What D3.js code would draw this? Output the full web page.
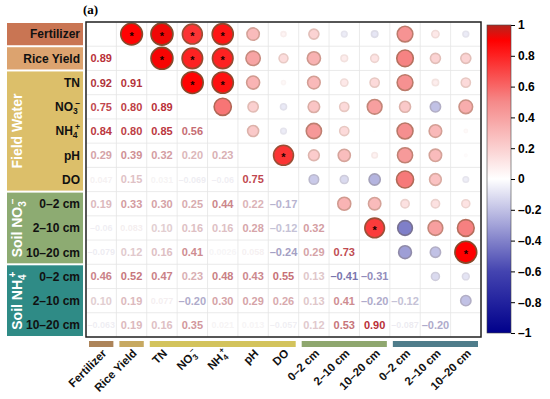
<!DOCTYPE html>
<meta charset="utf-8">
<style>
body { margin: 0; background: white; font-family: Arial, "Liberation Sans", sans-serif; }
.rowlab, .collab { font-weight: bold; fill: #111; }
.grp { font-weight: bold; fill: white; }
.tick text { font-weight: bold; font-size: 12px; }
</style>
<body>
<svg width="550" height="399"></svg>
<script src="https://d3js.org/d3.v7.min.js"></script>
<script>
// variable names, in matrix order
var vars = ["Fertilizer", "Rice Yield", "TN", "NO3", "NH4", "pH", "DO",
            "S3_0-2", "S3_2-10", "S3_10-20", "S4_0-2", "S4_2-10", "S4_10-20"];

// lower triangle of the correlation matrix, row by row
var lower = [
  [],
  [0.89],
  [0.92, 0.91],
  [0.75, 0.80, 0.89],
  [0.84, 0.80, 0.85, 0.56],
  [0.29, 0.39, 0.32, 0.20, 0.23],
  [0.047, 0.15, 0.031, -0.069, -0.060, 0.75],
  [0.19, 0.33, 0.30, 0.25, 0.44, 0.22, -0.17],
  [-0.060, 0.083, 0.10, 0.16, 0.16, 0.28, -0.12, 0.32],
  [-0.079, 0.12, 0.16, 0.41, 0.0026, 0.058, -0.24, 0.29, 0.73],
  [0.46, 0.52, 0.47, 0.23, 0.48, 0.43, 0.55, 0.13, -0.41, -0.31],
  [0.10, 0.19, 0.077, -0.20, 0.30, 0.29, 0.26, 0.13, 0.41, -0.20, -0.12],
  [-0.063, 0.19, 0.16, 0.35, 0.021, 0.013, -0.057, 0.12, 0.53, 0.90, -0.087, -0.20]
];

// row / column labels: [main, sub, sup]
var labels = [["Fertilizer"], ["Rice Yield"], ["TN"], ["NO", "3", "–"], ["NH", "4", "+"], ["pH"], ["DO"],
              ["0–2 cm"], ["2–10 cm"], ["10–20 cm"], ["0–2 cm"], ["2–10 cm"], ["10–20 cm"]];

// groups: first index, last index, colour of left box, colour of bottom bar, title
var groups = [
  {from: 0, to: 0, fill: "#c97553", bar: "#ad8459", title: null},
  {from: 1, to: 1, fill: "#dca36f", bar: "#c7a961", title: null},
  {from: 2, to: 6, fill: "#dcbf6a", bar: "#d3c35c", title: ["Field Water"]},
  {from: 7, to: 9, fill: "#8dab72", bar: "#8fa76f", title: ["Soil NO", "3", "–"]},
  {from: 10, to: 12, fill: "#2f8b86", bar: "#4f7d8b", title: ["Soil NH", "4", "+"]}
];

var cbTicks = [1, 0.8, 0.6, 0.4, 0.2, 0, -0.2, -0.4, -0.6, -0.8, -1];

var n = vars.length;
function r(i, j) { return i === j ? 1 : (i > j ? lower[i][j] : lower[j][i]); }

var svg = d3.select("svg");
var mLeft = 86, mRight = 481, mTop = 22, mBottom = 337;

var x = d3.scaleBand().domain(d3.range(n)).range([mLeft, mRight]);
var y = d3.scaleBand().domain(d3.range(n)).range([mTop, mBottom]);

var color = d3.scaleLinear()
  .domain([-1, -0.6, 0, 0.5, 0.9, 1])
  .range(["#00008b", "#4444b0", "#ffffff", "#f58a8a", "#ff0000", "#b3261e"])
  .interpolate(d3.interpolateRgb);

var rad = d3.scaleSqrt().domain([0, 1]).range([0, 11.5]);

function fmt(v) {
  var s;
  var a = Math.abs(v);
  if (a >= 0.1) s = a.toFixed(2);
  else s = String(+a.toPrecision(2));
  return (v < 0 ? "–" : "") + s;
}

// grid
var grid = svg.append("g");
d3.range(n + 1).forEach(function(k) {
  grid.append("line").attr("x1", mLeft).attr("x2", mRight)
    .attr("y1", mTop + k * y.bandwidth()).attr("y2", mTop + k * y.bandwidth())
    .attr("stroke", "#e4e4e4").attr("stroke-width", 0.8);
  grid.append("line").attr("y1", mTop).attr("y2", mBottom)
    .attr("x1", mLeft + k * x.bandwidth()).attr("x2", mLeft + k * x.bandwidth())
    .attr("stroke", "#e4e4e4").attr("stroke-width", 0.8);
});

var cells = [];
for (var i = 0; i < n; i++) for (var j = 0; j < n; j++) if (i !== j) cells.push({i: i, j: j, v: r(i, j)});

// upper: circles
var up = svg.append("g").selectAll("g").data(cells.filter(function(d) { return d.j > d.i; }))
  .enter().append("g")
  .attr("transform", function(d) { return "translate(" + (x(d.j) + x.bandwidth() / 2) + "," + (y(d.i) + y.bandwidth() / 2) + ")"; });
up.append("circle")
  .attr("r", function(d) { return rad(Math.abs(d.v)); })
  .attr("fill", function(d) { return color(d.v); })
  .attr("stroke", function(d) { return d3.interpolateRgb(color(d.v), "#6b5a35")(Math.min(1, Math.abs(d.v) * 0.9)); })
  .attr("stroke-width", 1.6);
up.filter(function(d) { return Math.abs(d.v) >= 0.73; }).append("text")
  .attr("text-anchor", "middle").attr("dy", "0.55em")
  .attr("font-size", 11).attr("font-weight", "bold").attr("fill", "#1a0000")
  .text("*");

// lower: numbers
svg.append("g").selectAll("text").data(cells.filter(function(d) { return d.j < d.i; }))
  .enter().append("text")
  .attr("x", function(d) { return x(d.j) + x.bandwidth() / 2; })
  .attr("y", function(d) { return y(d.i) + y.bandwidth() / 2; })
  .attr("dy", "0.36em")
  .attr("text-anchor", "middle")
  .attr("font-weight", "bold")
  .attr("font-size", function(d) { return Math.abs(d.v) < 0.1 ? 9 : 11; })
  .attr("fill", function(d) { return d3.interpolateRgb(color(d.v), "#706070")(0.15 + 0.38 * Math.abs(d.v)); })
  .attr("fill-opacity", function(d) { return Math.abs(d.v) < 0.1 ? 0.4 : 1; })
  .text(function(d) { return fmt(d.v); });

// border
svg.append("rect").attr("x", mLeft).attr("y", mTop).attr("width", mRight - mLeft).attr("height", mBottom - mTop)
  .attr("fill", "none").attr("stroke", "#222").attr("stroke-width", 1.5);

function addLabel(t, parts, subSize) {
  t.append("tspan").text(parts[0]);
  if (parts.length > 1) {
    t.append("tspan").attr("font-size", subSize).attr("dy", "0.35em").text(parts[1]);
    t.append("tspan").attr("font-size", subSize).attr("dy", "-1em").attr("dx", "-0.3em").text(parts[2]);
  }
}

// left label boxes
var lx0 = 7, lx1 = 83;
groups.forEach(function(g) {
  var y0 = y(g.from) + 1, y1 = y(g.to) + y.bandwidth() - 1;
  svg.append("rect").attr("x", lx0).attr("y", y0).attr("width", lx1 - lx0).attr("height", y1 - y0)
    .attr("fill", g.fill);
  if (g.title) {
    var t = svg.append("text").attr("class", "grp").attr("font-size", 14)
      .attr("text-anchor", "middle")
      .attr("transform", "translate(" + (lx0 + 15) + "," + ((y0 + y1) / 2) + ") rotate(-90)");
    addLabel(t, g.title, 10);
  }
  // bottom bar
  svg.append("rect").attr("x", x(g.from) + 3).attr("y", 341)
    .attr("width", x(g.to) + x.bandwidth() - x(g.from) - 6).attr("height", 6)
    .attr("fill", g.bar);
});

// row labels
d3.range(n).forEach(function(k) {
  var t = svg.append("text").attr("class", "rowlab").attr("font-size", 12)
    .attr("x", 80).attr("y", y(k) + y.bandwidth() / 2).attr("dy", "0.36em")
    .attr("text-anchor", "end");
  addLabel(t, labels[k], 8.5);
});

// column labels
d3.range(n).forEach(function(k) {
  var t = svg.append("text").attr("class", "collab").attr("font-size", 11.5)
    .attr("text-anchor", "end")
    .attr("transform", "translate(" + (x(k) + x.bandwidth() / 2 + 6) + ",354) rotate(-45)");
  addLabel(t, labels[k], 8);
});

// colour bar
var cb = {x: 487, w: 24, top: 25, bottom: 333};
var cy = d3.scaleLinear().domain([-1, 1]).range([cb.bottom, cb.top]);
var grad = svg.append("defs").append("linearGradient").attr("id", "cbg")
  .attr("x1", 0).attr("x2", 0).attr("y1", 1).attr("y2", 0);
d3.range(0, 1.0001, 0.05).forEach(function(s) {
  grad.append("stop").attr("offset", s).attr("stop-color", color(-1 + 2 * s));
});
svg.append("rect").attr("x", cb.x).attr("y", cb.top).attr("width", cb.w).attr("height", cb.bottom - cb.top)
  .attr("fill", "url(#cbg)").attr("stroke", "#444").attr("stroke-width", 0.6);
svg.append("g").attr("transform", "translate(" + (cb.x + cb.w) + ",0)")
  .call(d3.axisRight(cy).tickValues(cbTicks).tickSize(4).tickFormat(function(v) {
    return v === 0 ? "0" : (v < 0 ? "–" : "") + String(Math.abs(v));
  }))
  .call(function(g) { g.select(".domain").remove(); });

// panel tag
svg.append("text").attr("x", 83).attr("y", 14).attr("font-family", "Liberation Serif, serif")
  .attr("font-weight", "bold").attr("font-size", 13).text("(a)");
</script>
</body>
